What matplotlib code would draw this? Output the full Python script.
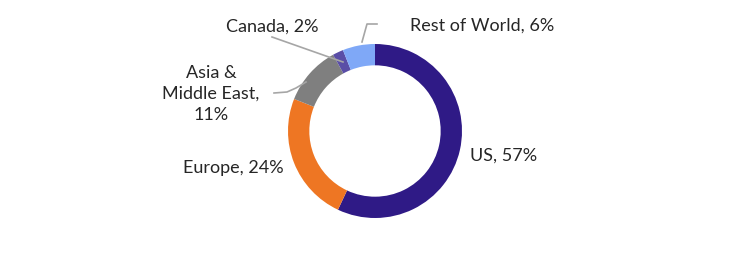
import matplotlib.pyplot as plt

regions = ["US", "Europe", "Asia &\nMiddle East", "Canada", "Rest of World"]
shares = [57, 24, 11, 2, 6]
colors = ["#2F1A86", "#EE7623", "#7F7F7F", "#5A4EA6", "#7FA8F7"]

plt.rcParams["font.family"] = ["Lato", "DejaVu Sans"]

fig = plt.figure(figsize=(7.5, 2.6), dpi=100)
ax = fig.add_axes([0, 0, 1, 1])

# work in pixel units, y measured from the bottom
H = 260
cx, cy, r = 375, H - 131, 87
ax.pie(shares, colors=colors, startangle=90, counterclock=False,
       center=(cx, cy), radius=r,
       wedgeprops=dict(width=r * 0.245, edgecolor="none"))

labels = [f"{n}, {v}%" for n, v in zip(regions, shares)]
labels[2] = "Asia &\nMiddle East,\n11%"
pos = [(470, 156, "left"), (233, 168, "center"), (211, 94, "center"),
       (272, 27, "center"), (482, 26, "center")]
for t, (x, y, ha) in zip(labels, pos):
    ax.text(x, H - y, t, ha=ha, va="center", fontsize=13, color="#262626",
            linespacing=1.35)

# leader lines
lc = "#A6A6A6"
ax.plot([377, 367, 362], [H - 24, H - 24, H - 42], color=lc, lw=1.2)
ax.plot([272, 343], [H - 37, H - 62], color=lc, lw=1.2)
ax.plot([274, 287, 296, 306], [H - 93, H - 92, H - 88, H - 82], color=lc, lw=1.2)

ax.set_xlim(0, 750)
ax.set_ylim(0, H)
ax.set_aspect("equal")
ax.axis("off")

fig.savefig("out.png", dpi=100)
